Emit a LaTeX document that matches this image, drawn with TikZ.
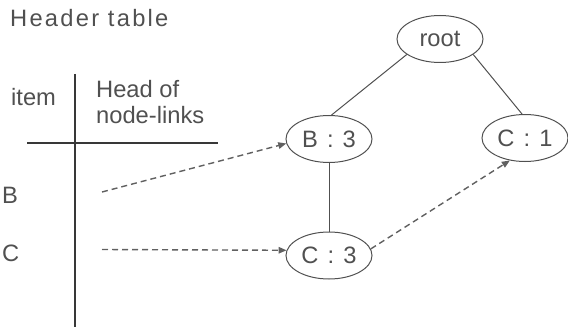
\documentclass[tikz,border=0pt]{standalone}
\usepackage{fontspec}
\setmainfont{Liberation Sans}
\usetikzlibrary{shapes.geometric,arrows.meta}
\definecolor{txtgray}{HTML}{505050}
\definecolor{linegray}{HTML}{505050}
\definecolor{rulegray}{HTML}{383838}
\definecolor{dashgray}{HTML}{606060}
\newcommand{\labelfont}{\fontsize{23.7}{26}\selectfont}
\newcommand{\sep}{ \hspace{2.5pt}:\hspace{2.5pt} }
\begin{document}
\begin{tikzpicture}[x=1pt,y=-1pt,
  txt/.style={inner sep=0pt, anchor=base west, text=txtgray, font=\labelfont},
  treenode/.style={ellipse, draw=linegray, line width=1pt, minimum width=86pt,
    minimum height=47pt, inner sep=0pt, text=txtgray, font=\labelfont},
  edge/.style={draw=linegray, line width=1pt},
  link/.style={draw=dashgray, line width=1.4pt, dash pattern=on 6pt off 4pt,
    -{Triangle[length=8pt,width=6.5pt]}},
  rule/.style={draw=rulegray, line width=1.4pt}]
  \useasboundingbox (0,0) rectangle (568,329);

  % header table
  \node[txt] (title) at (10,27) {\addfontfeatures{LetterSpace=9.5}Header table};
  \node[txt] (item) at (11,106) {item};
  \node[txt] (headof) at (96,97) {Head of};
  \node[txt] (nodelinks) at (96,123) {node-links};
  \node[txt] (itemB) at (2,203) {B};
  \node[txt] (itemC) at (2,261) {C};

  \coordinate (vtop) at (75,74);
  \coordinate (vbot) at (75,327);
  \coordinate (hleft) at (27,143);
  \coordinate (hright) at (218,143);
  \draw[rule] (vtop) -- (vbot);
  \draw[rule] (hleft) -- (hright);

  % FP-tree
  \node[treenode] (root) at (440,39) {root};
  \node[treenode] (b3) at (329,139) {B\sep 3};
  \node[treenode] (c1) at (525,138) {C\sep 1};
  \node[treenode] (c3) at (329,255.5) {C\sep 3};

  \draw[edge] (root.205) -- (b3.84);
  \draw[edge] (root.-25) -- (c1.97);
  \draw[edge] (b3.south) -- (c3.north);

  % node-links
  \coordinate (bstart) at (102,192);
  \coordinate (cstart) at (102,249.5);
  \draw[link] (bstart) -- (b3.186);
  \draw[link] (cstart) -- (c3.173);
  \draw[link] (c3.9) -- (c1.236);
\end{tikzpicture}
\end{document}
